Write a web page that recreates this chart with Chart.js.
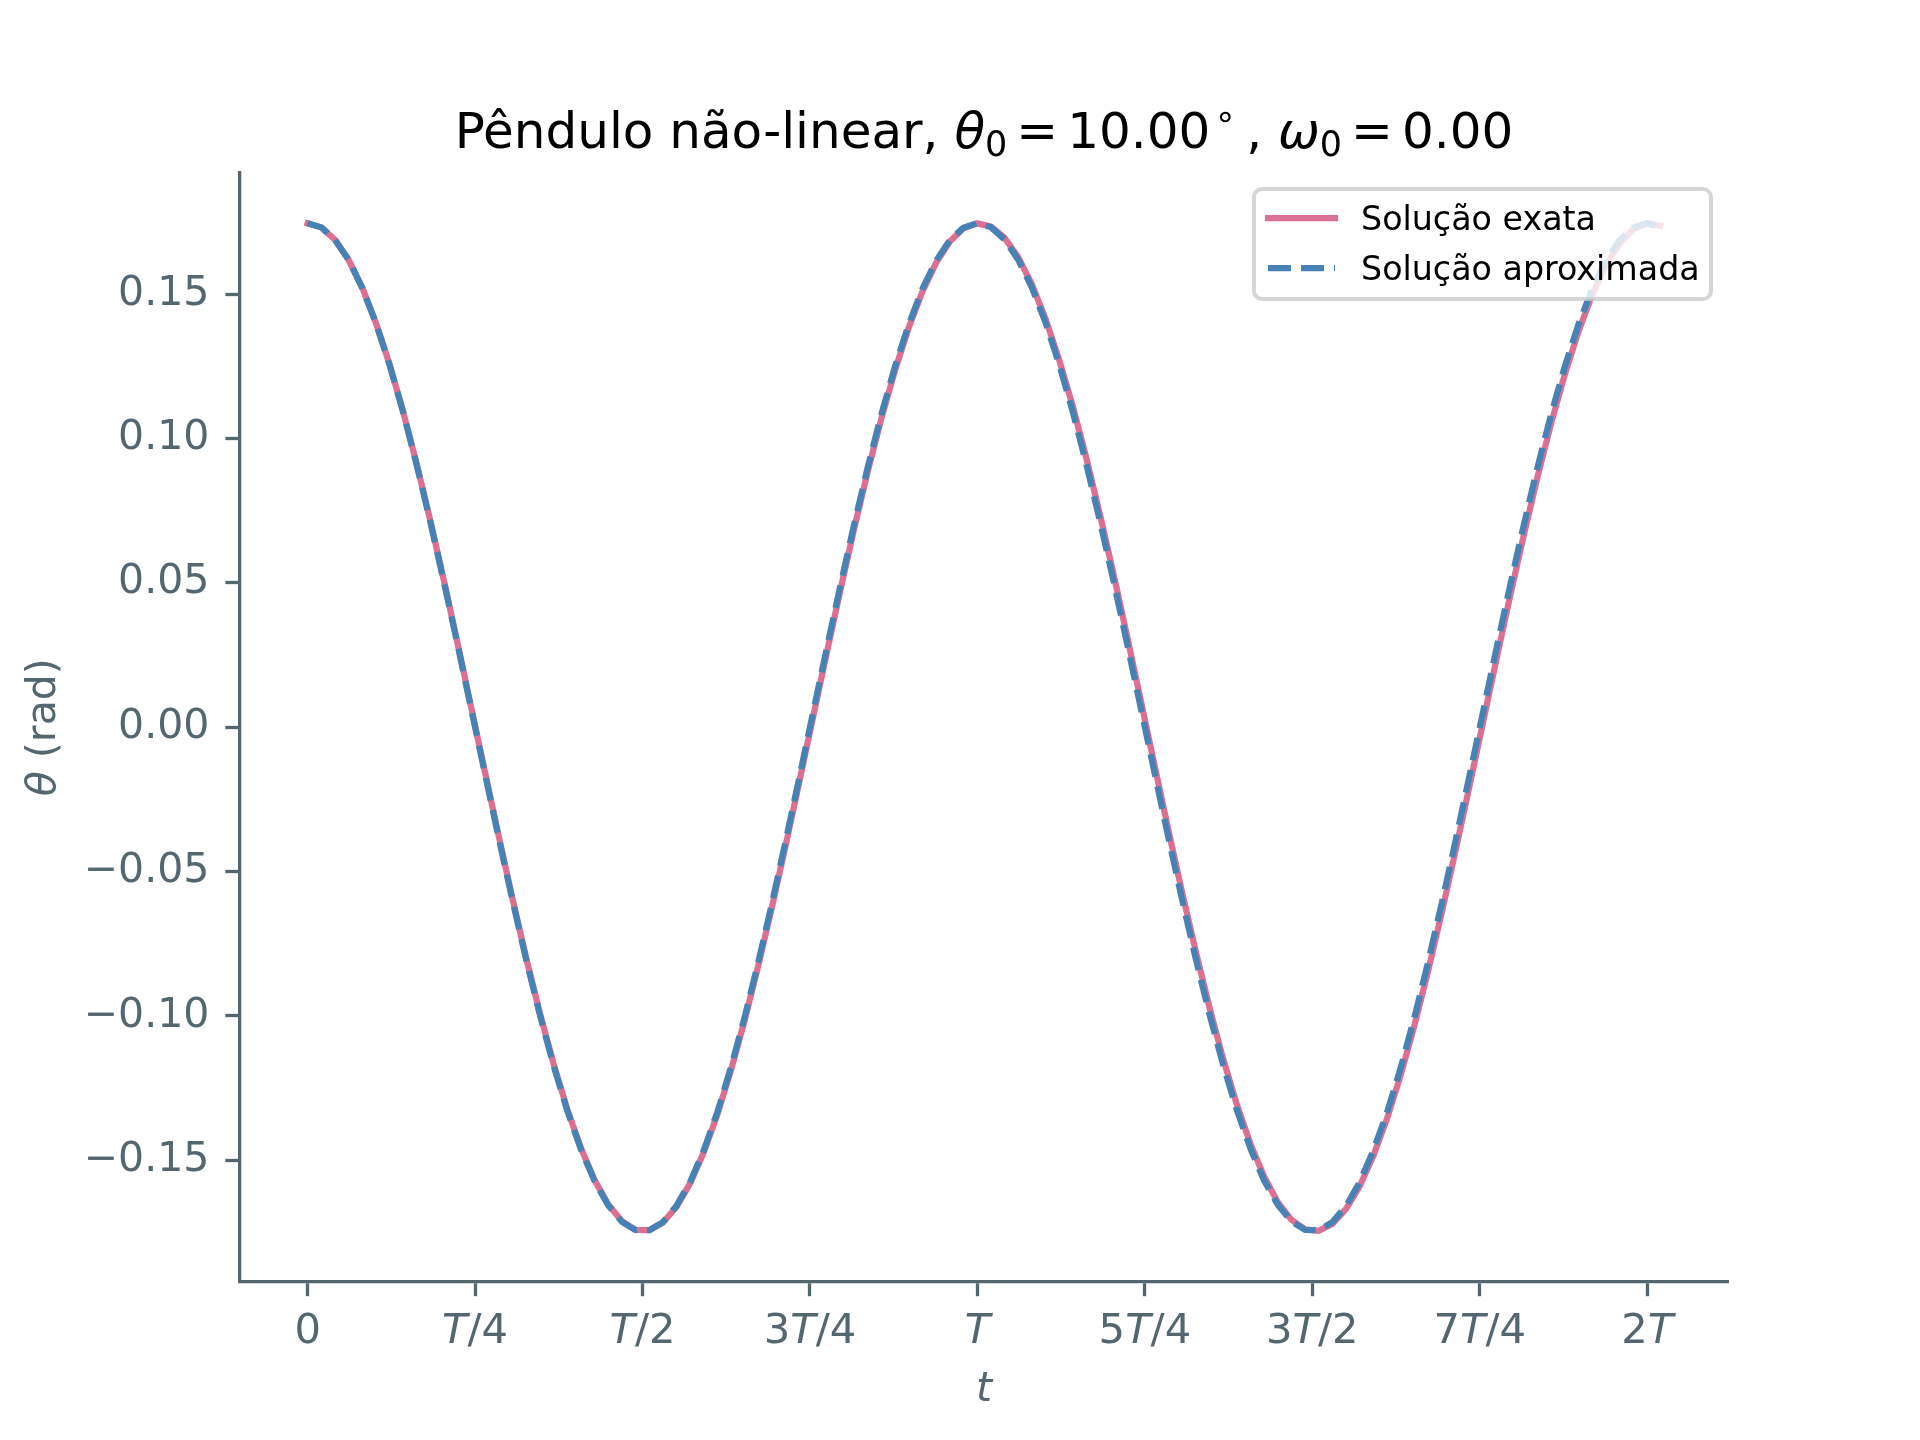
<!DOCTYPE html>
<html>
<head>
<meta charset="utf-8">
<script src="https://cdn.jsdelivr.net/npm/chart.js@4.4.1/dist/chart.umd.min.js"></script>
<style>
  html, body { margin: 0; padding: 0; background: #fff; }
  #wrap { width: 1920px; height: 1440px; }
</style>
</head>
<body>
<div id="wrap"><canvas id="chart" width="1920" height="1440"></canvas></div>
<script>
// time, in units of the linear period T
const timeT = [
  0, 0.0204, 0.0408, 0.0612, 0.0816, 0.1020, 0.1224, 0.1428, 0.1632, 0.1836,
  0.2040, 0.2244, 0.2448, 0.2652, 0.2856, 0.3060, 0.3264, 0.3468, 0.3672, 0.3876,
  0.4080, 0.4284, 0.4488, 0.4692, 0.4896, 0.5100, 0.5304, 0.5508, 0.5712, 0.5916,
  0.6120, 0.6324, 0.6528, 0.6732, 0.6936, 0.7140, 0.7344, 0.7548, 0.7752, 0.7956,
  0.8160, 0.8364, 0.8568, 0.8772, 0.8976, 0.9180, 0.9384, 0.9588, 0.9792, 0.9996,
  1.0200, 1.0404, 1.0608, 1.0812, 1.1016, 1.1220, 1.1424, 1.1628, 1.1832, 1.2036,
  1.2240, 1.2444, 1.2648, 1.2852, 1.3056, 1.3260, 1.3464, 1.3668, 1.3872, 1.4076,
  1.4280, 1.4484, 1.4688, 1.4892, 1.5096, 1.5300, 1.5504, 1.5708, 1.5912, 1.6116,
  1.6320, 1.6524, 1.6728, 1.6932, 1.7136, 1.7340, 1.7544, 1.7748, 1.7952, 1.8156,
  1.8360, 1.8564, 1.8768, 1.8972, 1.9176, 1.9380, 1.9584, 1.9788, 1.9992, 2.0196
];

// theta (rad), exact (non-linear) solution
const thetaExact = [
  0.1745, 0.1731, 0.1688, 0.1618, 0.1522, 0.1400, 0.1256, 0.1091, 0.0908, 0.0711,
  0.0502, 0.0284, 0.0062, -0.0161, -0.0381, -0.0596, -0.0800, -0.0991, -0.1166, -0.1323,
  -0.1457, -0.1568, -0.1653, -0.1711, -0.1741, -0.1742, -0.1716, -0.1661, -0.1579, -0.1471,
  -0.1339, -0.1185, -0.1012, -0.0822, -0.0619, -0.0406, -0.0186, 0.0037, 0.0259, 0.0477,
  0.0688, 0.0887, 0.1071, 0.1238, 0.1385, 0.1509, 0.1609, 0.1682, 0.1728, 0.1745,
  0.1734, 0.1695, 0.1628, 0.1534, 0.1415, 0.1273, 0.1111, 0.0930, 0.0734, 0.0526,
  0.0309, 0.0087, -0.0136, -0.0357, -0.0572, -0.0777, -0.0970, -0.1148, -0.1306, -0.1443,
  -0.1556, -0.1645, -0.1706, -0.1739, -0.1744, -0.1720, -0.1668, -0.1589, -0.1484, -0.1355,
  -0.1204, -0.1033, -0.0845, -0.0643, -0.0430, -0.0211, 0.0012, 0.0234, 0.0453, 0.0664,
  0.0865, 0.1051, 0.1220, 0.1369, 0.1496, 0.1599, 0.1675, 0.1724, 0.1745, 0.1737
];

// theta (rad), small-angle approximation
const thetaApprox = [
  0.1745, 0.1731, 0.1688, 0.1618, 0.1521, 0.1399, 0.1254, 0.1089, 0.0905, 0.0707,
  0.0497, 0.0280, 0.0057, -0.0166, -0.0387, -0.0601, -0.0806, -0.0997, -0.1172, -0.1328,
  -0.1462, -0.1572, -0.1656, -0.1713, -0.1742, -0.1742, -0.1714, -0.1657, -0.1574, -0.1464,
  -0.1331, -0.1175, -0.1001, -0.0810, -0.0606, -0.0391, -0.0171, 0.0053, 0.0275, 0.0493,
  0.0703, 0.0902, 0.1085, 0.1251, 0.1396, 0.1519, 0.1616, 0.1687, 0.1730, 0.1745,
  0.1732, 0.1689, 0.1619, 0.1523, 0.1402, 0.1257, 0.1092, 0.0909, 0.0711, 0.0502,
  0.0284, 0.0061, -0.0162, -0.0383, -0.0597, -0.0802, -0.0994, -0.1169, -0.1325, -0.1459,
  -0.1570, -0.1654, -0.1712, -0.1741, -0.1742, -0.1714, -0.1658, -0.1575, -0.1466, -0.1334,
  -0.1179, -0.1005, -0.0814, -0.0610, -0.0396, -0.0175, 0.0048, 0.0271, 0.0489, 0.0699,
  0.0898, 0.1082, 0.1248, 0.1394, 0.1517, 0.1615, 0.1686, 0.1730, 0.1745, 0.1732
];

const xTickValues = [0, 0.25, 0.5, 0.75, 1, 1.25, 1.5, 1.75, 2];
const xTickLabels = ["0", "T/4", "T/2", "3T/4", "T", "5T/4", "3T/2", "7T/4", "2T"];
const yTickValues = [-0.15, -0.10, -0.05, 0, 0.05, 0.10, 0.15];
const seriesLabels = ["Solução exata", "Solução aproximada"];

const colors = {
  exact: "#db7093",
  approx: "#4682b4",
  axis: "#546770",
  text: "#000000",
};
const FONT = "'DejaVu Sans', sans-serif";
const TICK_PX = 41.7;

// draw a row of text pieces with their own fonts / offsets, centred on x
function drawRuns(ctx, runs, x, y) {
  let total = 0;
  runs.forEach(r => {
    ctx.font = r.font;
    r.w = ctx.measureText(r.text).width + (r.pre || 0) + (r.gap || 0);
    total += r.w;
  });
  let cx = x - total / 2;
  runs.forEach(r => {
    ctx.font = r.font;
    ctx.fillText(r.text, cx + (r.pre || 0), y + (r.dy || 0));
    cx += r.w;
  });
}

const decorPlugin = {
  id: "decor",
  afterDraw(chart) {
    const ctx = chart.ctx;
    const area = chart.chartArea;
    const xs = chart.scales.x;
    ctx.save();
    ctx.textBaseline = "alphabetic";
    ctx.textAlign = "left";

    // title
    ctx.fillStyle = colors.text;
    const big = `50px ${FONT}`, ital = `italic 50px ${FONT}`, small = `35px ${FONT}`;
    drawRuns(ctx, [
      { text: "Pêndulo não-linear, ", font: big },
      { text: "θ", font: ital },
      { text: "0", font: small, dy: 8 },
      { text: "=", font: big, pre: 9, gap: 9 },
      { text: "10.00", font: big },
      { text: "∘", font: small, dy: -20, pre: 4 },
      { text: ",", font: big, pre: 10 },
      { text: " ", font: big },
      { text: "ω", font: ital },
      { text: "0", font: small, dy: 8 },
      { text: "=", font: big, pre: 9, gap: 9 },
      { text: "0.00", font: big },
    ], (area.left + area.right) / 2, 148);

    // x tick labels with italic T
    ctx.fillStyle = colors.axis;
    xs.ticks.forEach(tk => {
      const label = xTickLabels[xTickValues.indexOf(tk.value)];
      const runs = label.split("").map(ch => ({
        text: ch,
        font: (ch === "T" ? "italic " : "") + `${TICK_PX}px ${FONT}`,
      }));
      drawRuns(ctx, runs, xs.getPixelForValue(tk.value), 1343);
    });

    // axis labels
    drawRuns(ctx, [{ text: "t", font: `italic 41px ${FONT}` }], (area.left + area.right) / 2, 1401);
    ctx.save();
    ctx.translate(55, (area.top + area.bottom) / 2);
    ctx.rotate(-Math.PI / 2);
    drawRuns(ctx, [
      { text: "θ", font: `italic 41px ${FONT}` },
      { text: " (rad)", font: `41px ${FONT}` },
    ], 0, 0);
    ctx.restore();

    // legend (upper right, semi-transparent frame)
    const lx = 1254, ly = 189, lw = 457, lh = 110, r = 8;
    ctx.beginPath();
    ctx.moveTo(lx + r, ly);
    ctx.arcTo(lx + lw, ly, lx + lw, ly + lh, r);
    ctx.arcTo(lx + lw, ly + lh, lx, ly + lh, r);
    ctx.arcTo(lx, ly + lh, lx, ly, r);
    ctx.arcTo(lx, ly, lx + lw, ly, r);
    ctx.closePath();
    ctx.fillStyle = "rgba(255,255,255,0.8)";
    ctx.fill();
    ctx.lineWidth = 4;
    ctx.strokeStyle = "rgba(204,204,204,0.8)";
    ctx.stroke();

    const rows = [
      { label: seriesLabels[0], color: colors.exact, dash: [], cap: "square", y: 218 },
      { label: seriesLabels[1], color: colors.approx, dash: [23, 10], cap: "butt", y: 268 },
    ];
    rows.forEach(row => {
      ctx.beginPath();
      ctx.setLineDash(row.dash);
      ctx.lineCap = row.cap;
      ctx.lineWidth = 6.25;
      ctx.strokeStyle = row.color;
      ctx.moveTo(1268, row.y);
      ctx.lineTo(1335, row.y);
      ctx.stroke();
      ctx.setLineDash([]);
      ctx.fillStyle = colors.text;
      ctx.font = `33.3px ${FONT}`;
      ctx.textAlign = "left";
      ctx.fillText(row.label, 1361, row.y + 12);
    });
    ctx.restore();
  },
};

const axisGrid = {
  drawOnChartArea: false,
  drawTicks: true,
  tickLength: 14.6,
  tickWidth: 3.3,
  tickColor: colors.axis,
};
const axisBorder = { display: true, color: colors.axis, width: 3.3 };

new Chart(document.getElementById("chart"), {
  type: "line",
  data: {
    datasets: [
      {
        label: seriesLabels[1],
        data: timeT.map((t, i) => ({ x: t, y: thetaApprox[i] })),
        borderColor: colors.approx,
        borderWidth: 6.25,
        borderDash: [23, 10],
        borderCapStyle: "butt",
        borderJoinStyle: "round",
        pointRadius: 0,
        fill: false,
        tension: 0,
        order: 1,
      },
      {
        label: seriesLabels[0],
        data: timeT.map((t, i) => ({ x: t, y: thetaExact[i] })),
        borderColor: colors.exact,
        borderWidth: 6.25,
        borderCapStyle: "square",
        borderJoinStyle: "round",
        pointRadius: 0,
        fill: false,
        tension: 0,
        order: 2,
      },
    ],
  },
  options: {
    responsive: false,
    devicePixelRatio: 1,
    animation: false,
    layout: { padding: { left: 0, right: 192, top: 172.8, bottom: 0 } },
    plugins: {
      legend: { display: false },
      tooltip: { enabled: false },
      title: { display: false },
    },
    scales: {
      x: {
        type: "linear",
        min: -0.101,
        max: 2.1206,
        afterBuildTicks: s => { s.ticks = xTickValues.map(v => ({ value: v })); },
        afterFit: s => { s.height = 158.4; },
        grid: axisGrid,
        border: axisBorder,
        ticks: { display: false },
      },
      y: {
        type: "linear",
        min: -0.192,
        max: 0.192,
        afterBuildTicks: s => { s.ticks = yTickValues.map(v => ({ value: v })); },
        afterFit: s => { s.width = 240; },
        grid: axisGrid,
        border: axisBorder,
        ticks: {
          color: colors.axis,
          padding: 16,
          font: { family: FONT, size: 41 },
          callback: v => v.toFixed(2).replace("-", "\u2212"),
        },
      },
    },
  },
  plugins: [decorPlugin],
});
</script>
</body>
</html>
